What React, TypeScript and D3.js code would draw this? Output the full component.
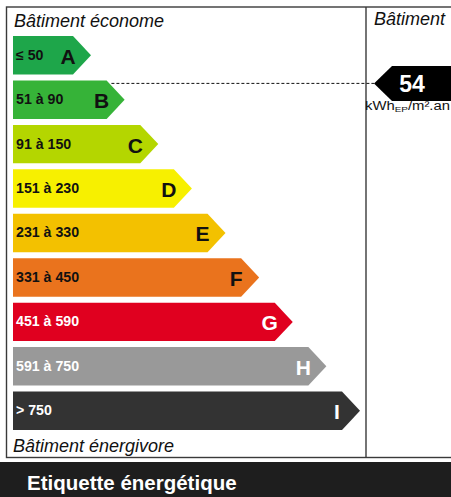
import React, { useEffect, useRef } from "react";
import * as d3 from "d3";

// energy classes, top (économe) to bottom (énergivore)
const classes = ["A", "B", "C", "D", "E", "F", "G", "H", "I"];
const rangeLabels = ["≤ 50", "51 à 90", "91 à 150", "151 à 230", "231 à 330", "331 à 450", "451 à 590", "591 à 750", "> 750"];
const lowerBounds = [0, 51, 91, 151, 231, 331, 451, 591, 751];
const upperBounds = [50, 90, 150, 230, 330, 450, 590, 750, 900];
const fills = ["#1ea64a", "#36b338", "#b4d600", "#f7f000", "#f3c100", "#ea731d", "#e0001f", "#999999", "#333333"];
const textColors = ["#111", "#111", "#111", "#111", "#111", "#111", "#fff", "#fff", "#fff"];

const consumption = 54;
const unitLabel = "kWh";

const W = 451;
const H = 497;

export default function App() {
  const svgRef = useRef<SVGSVGElement>(null);

  useEffect(() => {
    const svg = d3.select(svgRef.current);
    svg.selectAll("*").remove();

    const font = "'Liberation Sans', Arial, sans-serif";

    const y = d3.scaleBand<string>().domain(classes).range([36, 430]).paddingInner(0.135);
    const tip = d3.scaleLinear().domain([0, classes.length - 1]).range([91, 360]);
    const depth = 18;
    const x0 = 13;
    const divX = 366;

    svg.append("rect").attr("width", W).attr("height", H).attr("fill", "#fff");

    // frame
    svg.append("rect")
      .attr("x", 6.5).attr("y", 7)
      .attr("width", W + 10).attr("height", 450.5)
      .attr("fill", "none").attr("stroke", "#3a3a3a").attr("stroke-width", 1.4);
    svg.append("line")
      .attr("x1", divX).attr("x2", divX).attr("y1", 7).attr("y2", 457.5)
      .attr("stroke", "#3a3a3a").attr("stroke-width", 1.4);

    svg.append("text").attr("x", 14).attr("y", 27)
      .attr("font-family", font).attr("font-style", "italic").attr("font-size", 18)
      .attr("fill", "#111").text("Bâtiment économe");
    svg.append("text").attr("x", 13).attr("y", 452)
      .attr("font-family", font).attr("font-style", "italic").attr("font-size", 18)
      .attr("fill", "#111").text("Bâtiment énergivore");
    svg.append("text").attr("x", 374).attr("y", 25)
      .attr("font-family", font).attr("font-style", "italic").attr("font-size", 18)
      .attr("fill", "#111").text("Bâtiment");

    const bh = y.bandwidth();
    const rows = svg.append("g").selectAll("g").data(classes).join("g")
      .attr("transform", (d) => `translate(0,${y(d)})`);

    rows.append("path")
      .attr("d", (d, i) => {
        const t = tip(i);
        return `M${x0},0H${t - depth}L${t},${bh / 2}L${t - depth},${bh}H${x0}Z`;
      })
      .attr("fill", (d, i) => fills[i]);

    rows.append("text")
      .attr("x", 16).attr("y", bh / 2 + 4.5)
      .attr("font-family", font).attr("font-weight", "bold").attr("font-size", 14.2)
      .attr("fill", (d, i) => textColors[i])
      .text((d, i) => rangeLabels[i]);

    rows.append("text")
      .attr("x", (d, i) => tip(i) - 23).attr("y", bh / 2 + 8.5)
      .attr("text-anchor", "middle")
      .attr("font-family", font).attr("font-weight", "bold").attr("font-size", 21)
      .attr("fill", (d, i) => textColors[i])
      .text((d) => d);

    // position of the value inside its class
    const idx = lowerBounds.findIndex((lo, i) => consumption >= lo && consumption <= upperBounds[i]);
    const top = y(classes[idx]) as number;
    const vy = top + ((consumption - lowerBounds[idx]) / (upperBounds[idx] - lowerBounds[idx])) * bh;
    const edgeX = tip(idx) - depth + ((vy - top) / (bh / 2)) * depth;

    const ax = 374;
    const ah = 17.5;
    svg.append("line")
      .attr("x1", edgeX + 2).attr("x2", ax).attr("y1", vy).attr("y2", vy)
      .attr("stroke", "#111").attr("stroke-width", 1).attr("stroke-dasharray", "3,2");

    svg.append("path")
      .attr("d", `M${ax},${vy}L${ax + 18},${vy - ah}H${W + 5}V${vy + ah}H${ax + 18}Z`)
      .attr("fill", "#000");
    svg.append("text").attr("x", 412).attr("y", vy + 8.5)
      .attr("text-anchor", "middle")
      .attr("font-family", font).attr("font-weight", "bold").attr("font-size", 23)
      .attr("fill", "#fff").text(consumption);

    const unit = svg.append("text").attr("x", 365).attr("y", vy + 26.5)
      .attr("font-family", font).attr("font-size", 12).attr("fill", "#111")
      .attr("textLength", 85).attr("lengthAdjust", "spacingAndGlyphs");
    unit.append("tspan").text(unitLabel);
    unit.append("tspan").attr("font-size", 8).attr("dy", 2).text("EP");
    unit.append("tspan").attr("dy", -2).text("/m².an");

    // footer band
    svg.append("rect").attr("x", 0).attr("y", 462).attr("width", W).attr("height", H - 462).attr("fill", "#1e1e1e");
    svg.append("text").attr("x", 27).attr("y", 490)
      .attr("font-family", font).attr("font-weight", "bold").attr("font-size", 20.5)
      .attr("fill", "#fff").text("Etiquette énergétique");
  }, []);

  return (
    <svg ref={svgRef} width={W} height={H}
      style={{ position: "fixed", left: 0, top: 0, display: "block" }} />
  );
}
